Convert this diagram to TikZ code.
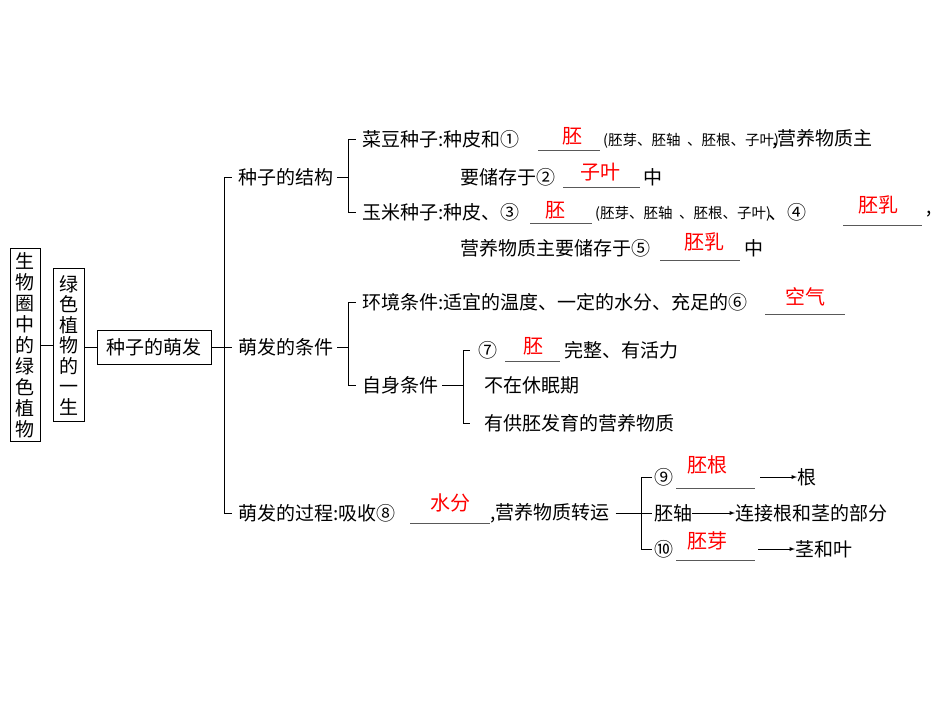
\documentclass[tikz,border=0pt]{standalone}
\usepackage{fontspec}
\setmainfont{Noto Sans CJK SC}
\begin{document}
\begin{tikzpicture}[x=1pt,y=-1pt,
  t/.style={anchor=west,inner sep=0pt,font=\fontsize{19}{19}\selectfont},
  sm/.style={anchor=west,inner sep=0pt,font=\fontsize{14.5}{14.5}\selectfont},
  ans/.style={inner sep=0pt,text=red,font=\fontsize{20}{20}\selectfont},
  bl/.style={line width=0.6pt,gray!70!black},
  ln/.style={line width=0.9pt},
  box/.style={draw,line width=0.9pt,inner sep=0pt,font=\fontsize{19}{19}\selectfont}]
\useasboundingbox (0,0) rectangle (950,713);
% boxes
\node[box,minimum width=30pt,minimum height=193pt,align=center,font=\fontsize{19}{21}\selectfont] (b1) at (25,345) {生\\物\\圈\\中\\的\\绿\\色\\植\\物};
\node[box,minimum width=31pt,minimum height=153pt,align=center,font=\fontsize{19}{20.5}\selectfont] (b2) at (68.5,345) {绿\\色\\植\\物\\的\\一\\生};
\node[box,minimum width=114pt,minimum height=34pt] (b3) at (154,347) {种子的萌发};
\draw[ln] (b1.east) -- (b2.west|-b1.east);
\draw[ln] (b2.east|-b3.west) -- (b3.west);
% main bracket
\coordinate (m1) at (224,177); \coordinate (m2) at (224,347); \coordinate (m3) at (224,513);
\draw[ln] (b3.east) -- (m2);
\draw[ln] (m1) -- (m3);
\draw[ln] (m1) -- ++(8,0); \draw[ln] (m2) -- ++(8,0); \draw[ln] (m3) -- ++(8,0);
\node[t] (s1) at (238,177) {种子的结构};
\node[t] (s2) at (238,347) {萌发的条件};
\node[t] (s3) at (238,513) {萌发的过程:吸收⑧};
% structure bracket
\coordinate (a0) at (348,177); \coordinate (a1) at (348,139); \coordinate (a2) at (348,212);
\draw[ln] (s1.east)++(4,0) -- (a0);
\draw[ln] (a1) -- (a2); \draw[ln] (a1) -- ++(8,0); \draw[ln] (a2) -- ++(8,0);
\node[t] (r1) at (362,139) {菜豆种子:种皮和①};
\draw[bl] (538,150) -- (600,150); \node[ans] at (572,136) {胚};
\node[sm] (p1) at (603,141) {(胚芽、胚轴\ \ 、胚根、子叶)};
\node[t] at (772,139) {,营养物质主};
\node[t] at (460,177) {要储存于②};
\draw[bl] (563,187) -- (640,187); \node[ans] at (600,172) {子叶};
\node[t] at (643,177) {中};
\node[t] (r2) at (362,212) {玉米种子:种皮、③};
\draw[bl] (530,223) -- (592,223); \node[ans] at (555,210) {胚};
\node[sm] at (595,214) {(胚芽、胚轴\ \ 、胚根、子叶)};
\node[t] at (768,212) {、④};
\draw[bl] (843,225) -- (922,225); \node[ans] at (878,205) {胚乳};
\node[t] at (926,214) {,};
\node[t] at (460,248) {营养物质主要储存于⑤};
\draw[bl] (660,260) -- (740,260); \node[ans] at (704,242) {胚乳};
\node[t] at (744,248) {中};
% conditions
\coordinate (c0) at (348,347); \coordinate (c1) at (348,302); \coordinate (c2) at (348,385);
\draw[ln] (s2.east)++(4,0) -- (c0);
\draw[ln] (c1) -- (c2); \draw[ln] (c1) -- ++(8,0); \draw[ln] (c2) -- ++(8,0);
\node[t] at (362,302) {环境条件:适宜的温度、一定的水分、充足的⑥};
\draw[bl] (765,314) -- (845,314); \node[ans] at (805,297) {空气};
\node[t] (zs) at (362,385) {自身条件};
\coordinate (d0) at (463,385); \coordinate (d1) at (463,350); \coordinate (d2) at (463,423);
\draw[ln] (zs.east)++(4,0) -- (d0);
\draw[ln] (d1) -- (d2); \draw[ln] (d1) -- ++(7,0); \draw[ln] (d2) -- ++(7,0);
\node[t] at (478,350) {⑦};
\draw[bl] (505,361) -- (560,361); \node[ans] at (533,346) {胚};
\node[t] at (564,350) {完整、有活力};
\node[t] at (484,385) {不在休眠期};
\node[t] at (484,423) {有供胚发育的营养物质};
% process
\draw[bl] (410,523) -- (490,523); \node[ans] at (450,503) {水分};
\node[t] (zy) at (490,513) {,营养物质转运};
\coordinate (e0) at (641,513); \coordinate (e1) at (641,477); \coordinate (e2) at (641,549);
\draw[ln] (zy.east)++(6,0) -- (e0);
\draw[ln] (e1) -- (e2); \draw[ln] (e1) -- ++(11,0); \draw[ln] (e0) -- ++(11,0); \draw[ln] (e2) -- ++(11,0);
\node[t] at (654,477) {⑨};
\draw[bl] (676,488) -- (755,488); \node[ans] at (707,465) {胚根};
\node[t] (g1) at (797,477) {根};
\draw[ln,-latex] (760,477) -- (g1.west);
\node[t] (pz) at (654,513) {胚轴};
\node[t] (g2) at (735,513) {连接根和茎的部分};
\draw[ln,-latex] (pz.east) -- (g2.west);
\node[t] at (654,549) {⑩};
\draw[bl] (676,560) -- (755,560); \node[ans] at (707,541) {胚芽};
\node[t] (g3) at (795,549) {茎和叶};
\draw[ln,-latex] (758,549) -- (g3.west);
\end{tikzpicture}
\end{document}
